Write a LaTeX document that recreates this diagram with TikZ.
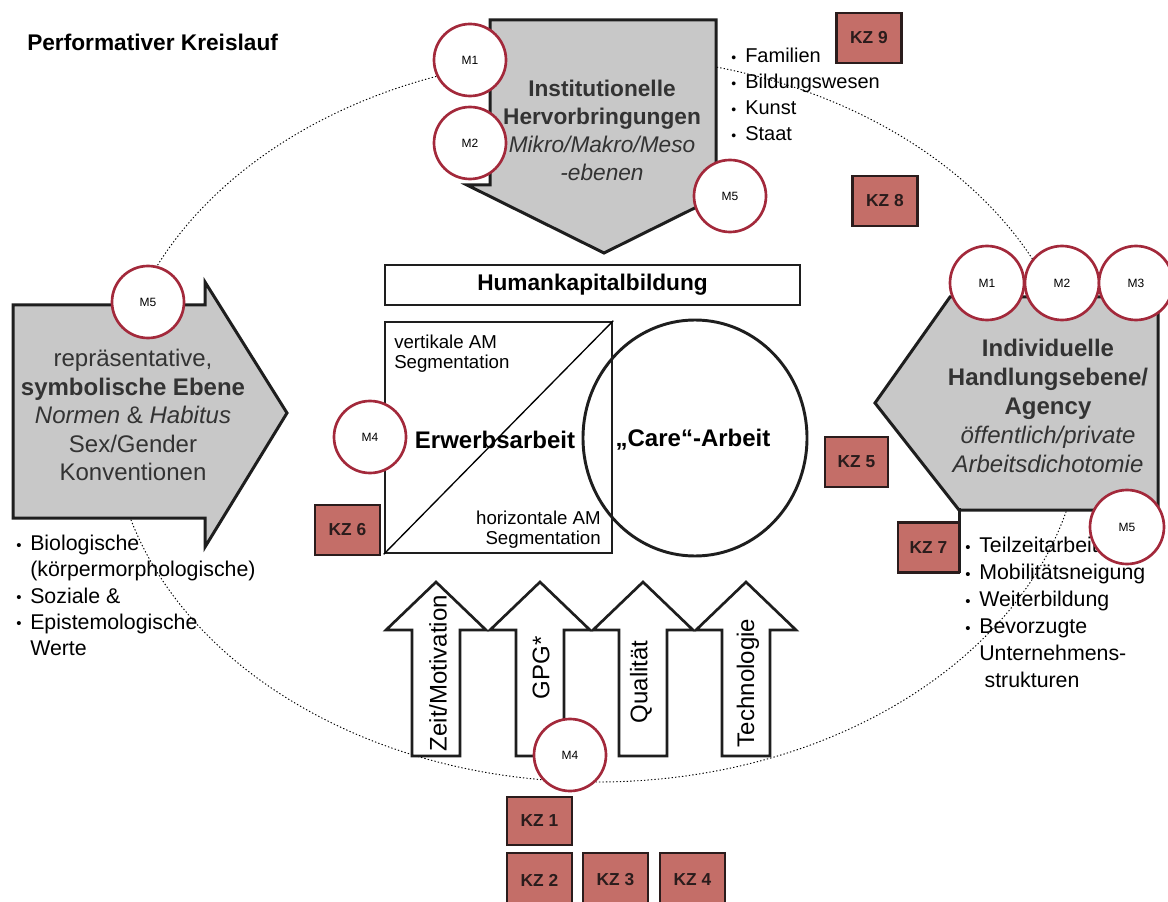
\documentclass[tikz,border=0pt]{standalone}
\usepackage{fontspec}
\setmainfont{Liberation Sans}
\usetikzlibrary{shapes.geometric}

\definecolor{kzfill}{HTML}{C46E68}
\definecolor{kzline}{HTML}{2A1C1C}
\definecolor{mring}{HTML}{A3293B}
\definecolor{panel}{HTML}{C8C8C8}
\definecolor{ink}{HTML}{1E1E1E}
\definecolor{paneltext}{HTML}{333333}

\newcommand{\bul}{\makebox[10.5pt][l]{\raisebox{0.5pt}{\scalebox{0.7}{•}}}}
\newcommand{\ind}{\hspace*{10.5pt}}

\tikzset{
  mcirc/.style={circle, draw=mring, fill=white, line width=2pt, minimum size=54pt,
    inner sep=0pt, font=\fontsize{9}{10}\selectfont},
  kzbox/.style={rectangle, draw=kzline, fill=kzfill, line width=2pt, minimum width=48.75pt,
    minimum height=37.5pt, inner sep=0pt, text=kzline, font=\fontsize{13}{13}\selectfont\bfseries},
  panelshape/.style={draw=ink, fill=panel, line width=2.25pt, line join=miter},
  uparrow/.style={draw=ink, fill=white, line width=2pt, line join=miter},
  loopline/.style={draw=black, line width=0.7pt, dash pattern=on 1pt off 1.6pt},
  paneltxt/.style={align=center, text=paneltext, inner sep=0pt},
  listtxt/.style={align=left, anchor=north west, inner sep=0pt, text=black},
  arrowtxt/.style={rotate=90, inner sep=0pt, font=\fontsize{18}{18}\selectfont},
  plainbox/.style={rectangle, draw=ink, line width=2pt, inner sep=0pt},
}

\begin{document}
\begin{tikzpicture}[x=0.75pt, y=-0.75pt]
  \useasboundingbox (0,0) rectangle (1168,902);
  \fill[white] (0,0) rectangle (1168,902);

  % title
  \node[anchor=west, inner sep=0pt, font=\fontsize{17}{17}\selectfont\bfseries] (title) at (27,42) {Performativer Kreislauf};

  % performative cycle (dotted loop)
  \draw[loopline] (597,419) ellipse [x radius=363.75pt, y radius=272.25pt];

  % top panel: institutional level (arrow pointing down)
  \draw[panelshape] (490,20) -- (716,20) -- (716,185) -- (741,185) -- (604,253)
    -- (467,185) -- (490,185) -- cycle;
  \node[paneltxt, font=\fontsize{17}{21}\selectfont] (inst) at (602,130)
    {\textbf{Institutionelle}\\\textbf{Hervorbringungen}\\\textit{Mikro/Makro/Meso}\\\textit{-ebenen}};

  % left panel: symbolic level (arrow pointing right)
  \draw[panelshape] (13,305) -- (205,305) -- (205,282) -- (287,413) -- (205,547)
    -- (205,518) -- (13,518) -- cycle;
  \node[paneltxt, font=\fontsize{18}{21.4}\selectfont] (symb) at (133,415)
    {repräsentative,\\\textbf{symbolische Ebene}\\\textit{Normen} \& \textit{Habitus}\\Sex/Gender\\Konventionen};

  % right panel: individual level (arrow pointing left)
  \draw[panelshape] (1158,297) -- (950,297) -- (875,403) -- (959,510) -- (1158,510) -- cycle;
  \draw[ink, line width=2.25pt] (959,508) -- (959,573);
  \node[paneltxt, font=\fontsize{18}{21.6}\selectfont] (indiv) at (1048,406)
    {\textbf{Individuelle}\\\textbf{Handlungsebene/}\\\textbf{Agency}\\\textit{öffentlich/private}\\\textit{Arbeitsdichotomie}};

  % lists
  \node[listtxt, font=\fontsize{15}{19.5}\selectfont] (toplist) at (731,48)
    {\bul Familien\\\bul Bildungswesen\\\bul Kunst\\\bul Staat};
  \node[listtxt, font=\fontsize{16}{19.7}\selectfont] (leftlist) at (16,535)
    {\bul Biologische\\\ind(körpermorphologische)\\\bul Soziale \&\\\bul Epistemologische\\\ind Werte};
  \node[listtxt, font=\fontsize{16}{20.25}\selectfont] (rightlist) at (965,537)
    {\bul Teilzeitarbeit\\\bul Mobilitätsneigung\\\bul Weiterbildung\\\bul Bevorzugte\\\ind Unternehmens-\\\ind\hspace*{4pt}strukturen};

  % centre: human capital
  \node[plainbox, minimum width=311.25pt, minimum height=30pt, font=\fontsize{17}{17}\selectfont\bfseries]
    (hk) at (592.5,285) {Humankapitalbildung};
  \node[plainbox, minimum width=170.25pt, minimum height=173.25pt] (erw) at (498.5,437.5) {};
  \draw[line width=1pt] (erw.south west) -- (erw.north east);
  \node[ellipse, draw=ink, line width=2.2pt, minimum width=168pt, minimum height=177pt, inner sep=0pt]
    (care) at (695,438) {};
  \node[inner sep=0pt, font=\fontsize{18}{18}\selectfont\bfseries] (erwtxt) at (495,440) {Erwerbsarbeit};
  \node[inner sep=0pt, font=\fontsize{18}{18}\selectfont\bfseries] (caretxt) at (693,440) {„Care“-Arbeit};
  \node[align=left, anchor=north west, inner sep=0pt, font=\fontsize{14}{15}\selectfont] (vert) at (394,335)
    {vertikale AM\\Segmentation};
  \node[align=right, anchor=north east, inner sep=0pt, font=\fontsize{14}{15}\selectfont] (horiz) at (601,511)
    {horizontale AM\\Segmentation};

  % factor arrows pointing up
  \foreach \cx in {436, 540, 643, 746}{
    \draw[uparrow] (\cx-24,756) -- (\cx-24,630) -- (\cx-50,630) -- (\cx,582)
      -- (\cx+50,630) -- (\cx+24,630) -- (\cx+24,756) -- cycle;
  }
  \node[arrowtxt] (fa) at (438,673) {Zeit/Motivation};
  \node[arrowtxt] (fb) at (541,668) {GPG*};
  \node[arrowtxt] (fc) at (641,682) {Qualität};
  \node[arrowtxt] (fd) at (748,683) {Technologie};

  % markers M1..M5
  \node[mcirc] (tm1) at (470,60) {M1};
  \node[mcirc] (tm2) at (470,143) {M2};
  \node[mcirc] (tm5) at (730,196) {M5};
  \node[mcirc] (lm5) at (148,302) {M5};
  \node[mcirc] (lm4) at (370,437) {M4};
  \node[mcirc] (bm4) at (570,755) {M4};
  \node[mcirc, minimum size=55.5pt] (rm1) at (987,283) {M1};
  \node[mcirc, minimum size=55.5pt] (rm2) at (1062,283) {M2};
  \node[mcirc, minimum size=55.5pt] (rm3) at (1136,283) {M3};
  \node[mcirc, minimum size=55.5pt] (rm5) at (1127,527) {M5};

  % KZ boxes
  \node[kzbox] (kz9) at (869,38) {KZ 9};
  \node[kzbox] (kz8) at (885,201) {KZ 8};
  \node[kzbox, minimum width=47.25pt] (kz5) at (856.5,462) {KZ 5};
  \node[kzbox] (kz6) at (347.5,530) {KZ 6};
  \node[kzbox, minimum width=45.75pt] (kz7) at (928.5,547.5) {KZ 7};
  \node[kzbox, minimum height=36pt] (kz1) at (539.5,821) {KZ 1};
  \node[kzbox, minimum height=40.5pt] (kz2) at (539.5,880) {KZ 2};
  \node[kzbox, minimum height=40.5pt] (kz3) at (615.5,880) {KZ 3};
  \node[kzbox, minimum height=40.5pt] (kz4) at (692.5,880) {KZ 4};
\end{tikzpicture}
\end{document}
